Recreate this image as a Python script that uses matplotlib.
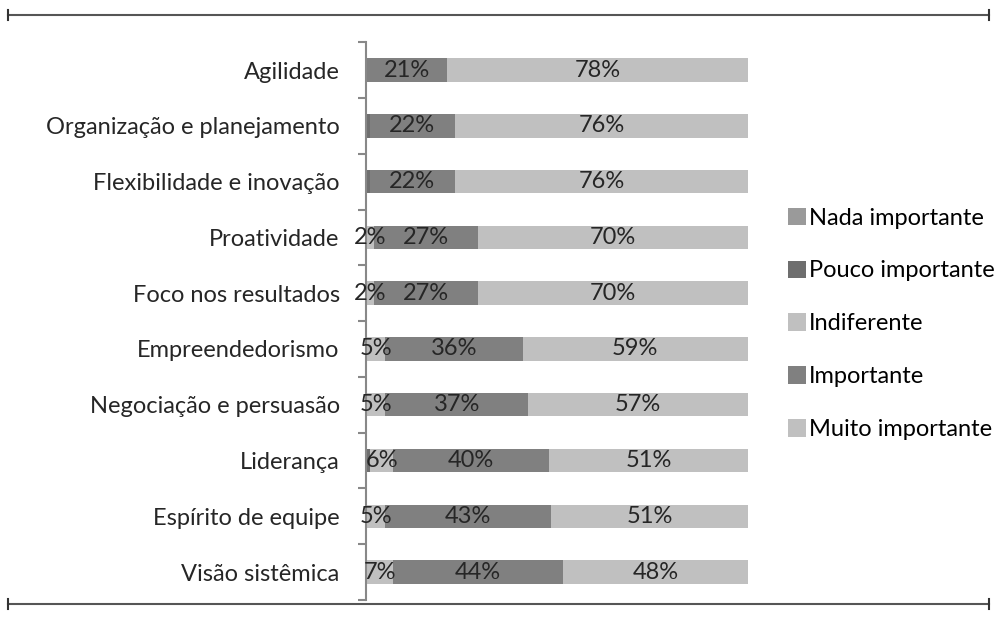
import matplotlib.pyplot as plt
from matplotlib.lines import Line2D
import numpy as np

plt.rcParams['font.family'] = ['Lato', 'DejaVu Sans']

categorias = ['Agilidade', 'Organização e planejamento', 'Flexibilidade e inovação',
              'Proatividade', 'Foco nos resultados', 'Empreendedorismo',
              'Negociação e persuasão', 'Liderança', 'Espírito de equipe', 'Visão sistêmica']
series = ['Nada importante', 'Pouco importante', 'Indiferente', 'Importante', 'Muito importante']

nada = [0, 0, 0, 0, 0, 0, 0, 0, 0, 0]
pouco = [0, 1, 1, 0, 0, 0, 0, 1, 0, 0]
indiferente = [0, 0, 0, 2, 2, 5, 5, 6, 5, 7]
importante = [21, 22, 22, 27, 27, 36, 37, 40, 43, 44]
muito = [78, 76, 76, 70, 70, 59, 57, 51, 51, 48]

cores = ['#9a9a9a', '#6e6e6e', '#c0c0c0', '#808080', '#c0c0c0']

dados = np.array([nada, pouco, indiferente, importante, muito], dtype=float)
total = dados.sum(axis=0)
frac = dados / total * 100          # grafico 100% empilhado

fig = plt.figure(figsize=(9.96, 6.21), dpi=100)
ax = fig.add_axes([0.3675, 0.034, 0.3835, 0.898])

y = np.arange(len(categorias))
esq = np.zeros(len(categorias))
for i, nome in enumerate(series):
    ax.barh(y, frac[i], left=esq, height=0.42, color=cores[i], label=nome)
    for j in range(len(categorias)):
        if dados[i][j] >= 2:
            ax.text(esq[j] + frac[i][j] / 2, y[j], f'{int(dados[i][j])}%',
                    ha='center', va='center', fontsize=17, color='#262626')
    esq += frac[i]

ax.set_xlim(0, 100)
ax.set_ylim(len(categorias) - 0.5, -0.5)
ax.set_yticks(y)
ax.set_yticklabels(categorias, fontsize=17, color='#262626')
ax.set_yticks(np.arange(-0.5, len(categorias)), minor=True)
ax.tick_params(axis='y', which='major', length=0, pad=19)
ax.tick_params(axis='y', which='minor', length=6, width=1.5, color='#888888')
ax.set_xticks([])
for s in ['top', 'right', 'bottom']:
    ax.spines[s].set_visible(False)
ax.spines['left'].set_color('#888888')
ax.spines['left'].set_linewidth(1.5)

ax.legend(loc='center left', bbox_to_anchor=(1.105, 0.495), frameon=False,
          fontsize=17, handlelength=0.75, handleheight=0.75, handletextpad=0.15,
          labelspacing=1.35, borderaxespad=0, borderpad=0)

# moldura decorativa
for yy in [1 - 15 / 621, 1 - 604 / 621]:
    fig.add_artist(Line2D([0.008, 0.993], [yy, yy], color='#555555', lw=1.5))
    fig.add_artist(Line2D([0.008, 0.008], [yy - 0.008, yy + 0.008], color='#333333', lw=1.5))
    fig.add_artist(Line2D([0.993, 0.993], [yy - 0.008, yy + 0.008], color='#333333', lw=1.5))

fig.savefig('out.png', dpi=100)
